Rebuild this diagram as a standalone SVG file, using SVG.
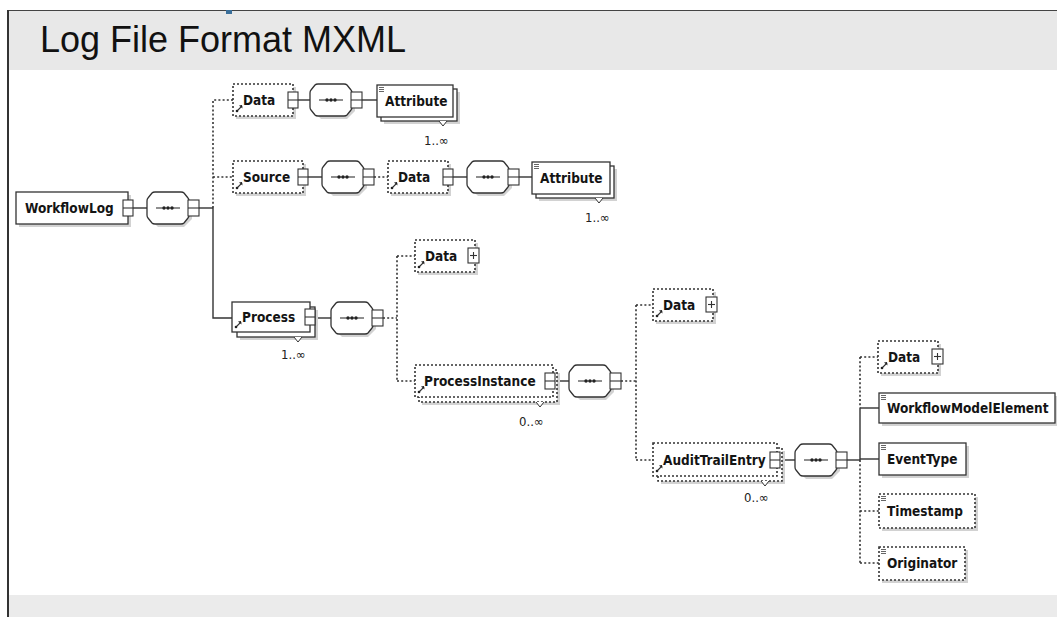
<svg xmlns="http://www.w3.org/2000/svg" xmlns:xlink="http://www.w3.org/1999/xlink" width="1057" height="617" viewBox="0 0 1057 617">
  <style>
    .box { fill: #ffffff; stroke: #333333; stroke-width: 1.3; }
    .opt { fill: #ffffff; stroke: #333333; stroke-width: 1.6; stroke-dasharray: 2 2; }
    .shadow { fill: #d2d2d2; }
    .btn { fill: #ffffff; stroke: #333333; stroke-width: 1.1; }
    .mark { fill: none; stroke: #333333; stroke-width: 1.1; }
    .wire { fill: none; stroke: #333333; stroke-width: 1.4; }
    .wire-opt { fill: none; stroke: #333333; stroke-width: 1.6; stroke-dasharray: 2 2.2; }
    .lbl { font-family: "DejaVu Sans Condensed", "DejaVu Sans", sans-serif; font-weight: bold; font-size: 13.5px; fill: #141414; }
    .occ { font-family: "DejaVu Sans Condensed", "DejaVu Sans", sans-serif; font-size: 13px; fill: #222222; }
    .title { font-family: "Liberation Sans", Arial, sans-serif; font-size: 36px; fill: #111111; }
  </style>
  <defs>
    <!-- sequence compositor: chamfered box, dotted bar, collapse button -->
    <g id="seq">
      <path class="shadow" d="M11,3 H37 L45,11 V27 L37,35 H11 L3,27 V11 Z"/>
      <path class="box" d="M8,0 H34 Q36,0 37,1 L41,6 Q42,7 42,9 V23 Q42,25 41,26 L37,31 Q36,32 34,32 H8 Q6,32 5,31 L1,26 Q0,25 0,23 V9 Q0,7 1,6 L5,1 Q6,0 8,0 Z"/>
      <line class="mark" x1="9" y1="16" x2="33" y2="16"/>
      <circle cx="17" cy="16" r="1.7" fill="#222"/>
      <circle cx="21" cy="16" r="1.7" fill="#222"/>
      <circle cx="25" cy="16" r="1.7" fill="#222"/>
      <rect class="btn" x="41" y="8" width="11" height="16"/>
      <line class="mark" x1="41" y1="16" x2="52" y2="16"/>
    </g>
    <!-- collapse / expand buttons -->
    <g id="minus">
      <rect class="btn" x="0" y="0" width="10" height="16"/>
      <line class="mark" x1="0" y1="8" x2="10" y2="8"/>
    </g>
    <g id="plus">
      <rect class="btn" x="0" y="0" width="11" height="15"/>
      <line class="mark" x1="2" y1="7.5" x2="9" y2="7.5"/>
      <line class="mark" x1="5.5" y1="4" x2="5.5" y2="11"/>
    </g>
    <!-- reference arrow, bottom-left of a referenced element -->
    <g id="ref">
      <path class="mark" d="M0,0 L5,-5"/>
      <path d="M5,-6 L2,-5.5 L5.5,-2.5 Z" fill="#222"/>
      <circle cx="0" cy="0" r="1.3" fill="#222"/>
    </g>
    <!-- simple-content marker, top-left -->
    <g id="simple">
      <line x1="0" y1="0.5" x2="5" y2="0.5" stroke="#555" stroke-width="0.9"/>
      <line x1="0" y1="2.5" x2="5" y2="2.5" stroke="#555" stroke-width="0.9"/>
      <line x1="0" y1="4.5" x2="5" y2="4.5" stroke="#555" stroke-width="0.9"/>
    </g>
    <!-- repeat notch under stacked elements -->
    <path id="notch" d="M-4,0 L0,5 L4,0" fill="#ffffff" stroke="#333333" stroke-width="1"/>
  </defs>

  <!-- page frame -->
  <rect x="0" y="0" width="1057" height="617" fill="#ffffff"/>
  <rect x="8" y="10" width="1049" height="60" fill="#e8e8e8"/>
  <line x1="8" y1="10.5" x2="1057" y2="10.5" stroke="#444" stroke-width="1"/>
  <rect x="7" y="10" width="2" height="607" fill="#333"/>
  <rect x="9" y="595" width="1048" height="22" fill="#ebebeb"/>
  <rect x="226" y="10" width="6" height="4" fill="#3a6f9a"/>
  <text class="title" x="40" y="52">Log File Format MXML</text>

  <!-- connectors -->
  <g id="connectors">
    <path class="wire" d="M133,208 H147"/>
    <path class="wire" d="M199,208 H213"/>
    <path class="wire" d="M213,208 V318 H232"/>
    <path class="wire-opt" d="M213,208 V100 H233"/>
    <path class="wire-opt" d="M213,177 H233"/>
    <path class="wire" d="M298,100 H310"/>
    <path class="wire" d="M362,100 H377"/>
    <path class="wire" d="M308,177 H322"/>
    <path class="wire-opt" d="M374,177 H388"/>
    <path class="wire" d="M453,177 H467"/>
    <path class="wire" d="M519,177 H532"/>
    <path class="wire" d="M315,318 H331"/>
    <path class="wire-opt" d="M383,318 H397"/>
    <path class="wire-opt" d="M397,256 V381"/>
    <path class="wire-opt" d="M397,256 H415"/>
    <path class="wire-opt" d="M397,381 H415"/>
    <path class="wire" d="M555,381 H569"/>
    <path class="wire-opt" d="M621,381 H636"/>
    <path class="wire-opt" d="M636,305 V460"/>
    <path class="wire-opt" d="M636,305 H653"/>
    <path class="wire-opt" d="M636,460 H653"/>
    <path class="wire" d="M781,460 H795"/>
    <path class="wire" d="M847,460 H860"/>
    <path class="wire" d="M860,408 V460"/>
    <path class="wire" d="M860,408 H879"/>
    <path class="wire" d="M860,459 H879"/>
    <path class="wire-opt" d="M860,357 V408"/>
    <path class="wire-opt" d="M860,460 V563"/>
    <path class="wire-opt" d="M860,357 H878"/>
    <path class="wire-opt" d="M860,511 H879"/>
    <path class="wire-opt" d="M860,563 H879"/>
  </g>

  <!-- WorkflowLog -->
  <g id="workflowlog">
    <rect class="shadow" x="19" y="195" width="112" height="32"/>
    <rect class="box" x="16" y="192" width="112" height="32"/>
    <text class="lbl" x="25" y="213">WorkflowLog</text>
    <use href="#minus" x="123" y="200"/>
  </g>
  <g id="seq-workflowlog"><use href="#seq" x="147" y="192"/></g>

  <!-- Data (log level) -->
  <g id="log-data">
    <rect class="shadow" x="236" y="87" width="60" height="32"/>
    <rect class="opt" x="233" y="84" width="60" height="32"/>
    <use href="#ref" x="237" y="111"/>
    <text class="lbl" x="243" y="105">Data</text>
    <use href="#minus" x="288" y="92"/>
  </g>
  <g id="seq-log-data"><use href="#seq" x="310" y="84"/></g>
  <g id="log-data-attribute">
    <rect class="shadow" x="384" y="92" width="76" height="32"/>
    <rect class="box" x="381" y="89" width="76" height="32"/>
    <rect class="box" x="377" y="85" width="76" height="32"/>
    <use href="#simple" x="379" y="87"/>
    <text class="lbl" x="385" y="106">Attribute</text>
    <use href="#notch" x="443" y="121"/>
    <text class="occ" x="424" y="145">1..∞</text>
  </g>

  <!-- Source -->
  <g id="source">
    <rect class="shadow" x="236" y="164" width="70" height="32"/>
    <rect class="opt" x="233" y="161" width="70" height="32"/>
    <use href="#ref" x="237" y="188"/>
    <text class="lbl" x="243" y="182">Source</text>
    <use href="#minus" x="298" y="169"/>
  </g>
  <g id="seq-source"><use href="#seq" x="322" y="161"/></g>
  <g id="source-data">
    <rect class="shadow" x="391" y="164" width="60" height="32"/>
    <rect class="opt" x="388" y="161" width="60" height="32"/>
    <use href="#ref" x="392" y="188"/>
    <text class="lbl" x="398" y="182">Data</text>
    <use href="#minus" x="443" y="169"/>
  </g>
  <g id="seq-source-data"><use href="#seq" x="467" y="161"/></g>
  <g id="source-data-attribute">
    <rect class="shadow" x="539" y="169" width="78" height="32"/>
    <rect class="box" x="536" y="166" width="78" height="32"/>
    <rect class="box" x="532" y="162" width="78" height="32"/>
    <use href="#simple" x="534" y="164"/>
    <text class="lbl" x="540" y="183">Attribute</text>
    <use href="#notch" x="599" y="198"/>
    <text class="occ" x="585" y="222">1..∞</text>
  </g>

  <!-- Process -->
  <g id="process">
    <rect class="shadow" x="240" y="310" width="78" height="30"/>
    <rect class="box" x="237" y="307" width="78" height="30"/>
    <rect class="box" x="232" y="302" width="78" height="30"/>
    <use href="#ref" x="236" y="327"/>
    <text class="lbl" x="242" y="322">Process</text>
    <use href="#minus" x="305" y="309"/>
    <use href="#notch" x="298" y="337"/>
    <text class="occ" x="281" y="359">1..∞</text>
  </g>
  <g id="seq-process"><use href="#seq" x="331" y="302"/></g>
  <g id="process-data">
    <rect class="shadow" x="418" y="243" width="60" height="32"/>
    <rect class="opt" x="415" y="240" width="60" height="32"/>
    <use href="#ref" x="419" y="267"/>
    <text class="lbl" x="425" y="261">Data</text>
    <use href="#plus" x="468" y="248"/>
  </g>

  <!-- ProcessInstance -->
  <g id="processinstance">
    <rect class="shadow" x="422" y="373" width="138" height="32"/>
    <rect class="opt" x="419" y="370" width="138" height="32"/>
    <rect class="opt" x="415" y="365" width="138" height="32"/>
    <use href="#ref" x="419" y="392"/>
    <text class="lbl" x="424" y="386">ProcessInstance</text>
    <use href="#minus" x="545" y="373"/>
    <use href="#notch" x="540" y="402"/>
    <text class="occ" x="519" y="426">0..∞</text>
  </g>
  <g id="seq-processinstance"><use href="#seq" x="569" y="365"/></g>
  <g id="processinstance-data">
    <rect class="shadow" x="656" y="292" width="60" height="32"/>
    <rect class="opt" x="653" y="289" width="60" height="32"/>
    <use href="#ref" x="657" y="316"/>
    <text class="lbl" x="663" y="310">Data</text>
    <use href="#plus" x="706" y="297"/>
  </g>

  <!-- AuditTrailEntry -->
  <g id="audittrailentry">
    <rect class="shadow" x="661" y="451" width="124" height="33"/>
    <rect class="opt" x="658" y="448" width="124" height="33"/>
    <rect class="opt" x="653" y="443" width="124" height="33"/>
    <use href="#ref" x="657" y="471"/>
    <text class="lbl" x="663" y="465">AuditTrailEntry</text>
    <use href="#minus" x="770" y="452"/>
    <use href="#notch" x="765" y="481"/>
    <text class="occ" x="744" y="502">0..∞</text>
  </g>
  <g id="seq-audittrailentry"><use href="#seq" x="795" y="444"/></g>
  <g id="audittrailentry-data">
    <rect class="shadow" x="881" y="344" width="60" height="32"/>
    <rect class="opt" x="878" y="341" width="60" height="32"/>
    <use href="#ref" x="882" y="368"/>
    <text class="lbl" x="888" y="362">Data</text>
    <use href="#plus" x="932" y="349"/>
  </g>
  <g id="workflowmodelelement">
    <rect class="shadow" x="882" y="396" width="176" height="30"/>
    <rect class="box" x="879" y="393" width="176" height="30"/>
    <use href="#simple" x="881" y="395"/>
    <text class="lbl" x="887" y="413">WorkflowModelElement</text>
  </g>
  <g id="eventtype">
    <rect class="shadow" x="882" y="446" width="87" height="32"/>
    <rect class="box" x="879" y="443" width="87" height="32"/>
    <use href="#simple" x="881" y="445"/>
    <text class="lbl" x="887" y="464">EventType</text>
  </g>
  <g id="timestamp">
    <rect class="shadow" x="882" y="497" width="96" height="34"/>
    <rect class="opt" x="879" y="494" width="96" height="34"/>
    <use href="#simple" x="881" y="496"/>
    <text class="lbl" x="887" y="516">Timestamp</text>
  </g>
  <g id="originator">
    <rect class="shadow" x="882" y="550" width="86" height="33"/>
    <rect class="opt" x="879" y="547" width="86" height="33"/>
    <use href="#simple" x="881" y="549"/>
    <text class="lbl" x="887" y="568">Originator</text>
  </g>
</svg>
